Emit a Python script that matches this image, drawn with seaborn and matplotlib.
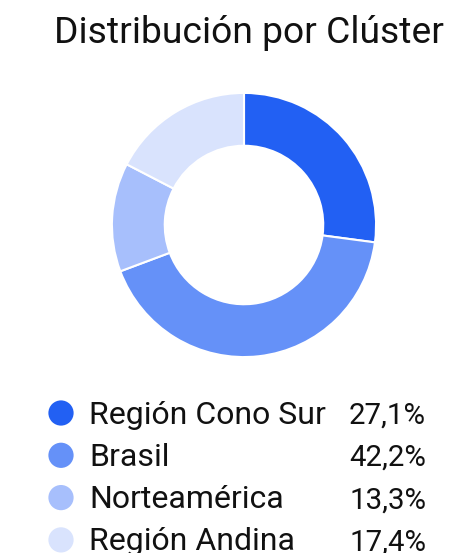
import matplotlib
matplotlib.use("Agg")
import matplotlib.pyplot as plt
import seaborn as sns
import pandas as pd

clusters = ["Región Cono Sur", "Brasil", "Norteamérica", "Región Andina"]
shares = [27.1, 42.2, 13.3, 17.4]
colors = ["#2260f3", "#6591f8", "#a7bffc", "#d9e3fd"]

sns.set_theme(style="white")
plt.rcParams["font.family"] = ["Roboto", "DejaVu Sans"]

W, H = 451, 553
fig = plt.figure(figsize=(W / 100, H / 100), dpi=100)

# donut
cx, cy, size = 244, 225, 280
ax = fig.add_axes([(cx - size / 2) / W, 1 - (cy + size / 2) / H, size / W, size / H])
ax.pie(shares, colors=colors, startangle=90, counterclock=False,
       wedgeprops=dict(width=0.4, edgecolor="white", linewidth=1.5))
ax.set_xlim(-1.06, 1.06)
ax.set_ylim(-1.06, 1.06)
ax.set_aspect("equal")
ax.axis("off")

fig.text(248.5 / W, 1 - 43 / H, "Distribución por Clúster", ha="center", va="baseline",
         fontsize=26.8, color="#111111")

# legend drawn in pixel coordinates
lax = fig.add_axes([0, 0, 1, 1])
lax.set_xlim(0, W)
lax.set_ylim(H, 0)
lax.axis("off")
df = pd.DataFrame({"cluster": clusters, "share": shares,
                   "y": [413 + 42.3 * i for i in range(len(clusters))]})
df["x"] = 61
sns.scatterplot(data=df, x="x", y="y", hue="cluster", palette=colors, s=330,
                linewidth=0, legend=False, ax=lax)
for _, r in df.iterrows():
    lax.text(89, r["y"] + 10.5, r["cluster"], ha="left", va="baseline",
             fontsize=23, color="#111111")
    lax.text(426, r["y"] + 10.5, f"{r['share']:.1f}%".replace(".", ","),
             ha="right", va="baseline", fontsize=21.2, color="#111111")
lax.set_xlim(0, W)
lax.set_ylim(H, 0)

fig.savefig("out.png", dpi=100)
